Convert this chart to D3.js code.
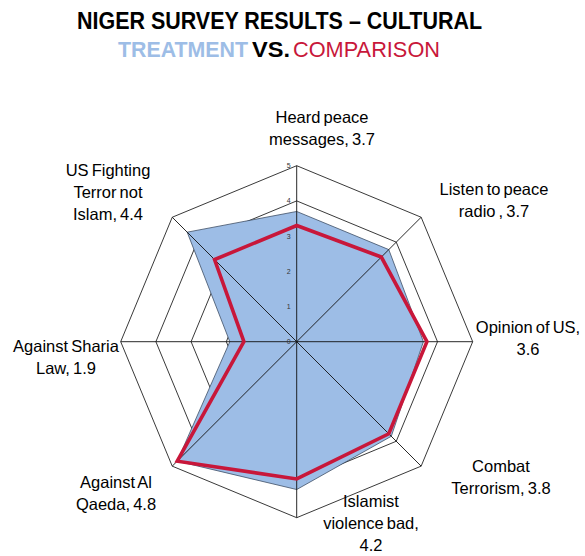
<!DOCTYPE html>
<html>
<head>
<meta charset="utf-8">
<script src="https://cdn.jsdelivr.net/npm/d3@7/dist/d3.min.js"></script>
<style>
  html, body { margin: 0; padding: 0; background: #fff; }
  svg { display: block; font-family: Arial, "Liberation Sans", sans-serif; }
</style>
</head>
<body>
<svg id="chart" width="585" height="556"></svg>
<script>
// Survey dimensions, clockwise from the top
const categories = [
  ["Heard peace", "messages, 3.7"],
  ["Listen to peace", "radio , 3.7"],
  ["Opinion of US,", "3.6"],
  ["Combat", "Terrorism, 3.8"],
  ["Islamist", "violence bad,", "4.2"],
  ["Against Al", "Qaeda, 4.8"],
  ["Against Sharia", "Law, 1.9"],
  ["US Fighting", "Terror not", "Islam, 4.4"]
];
const treatment  = [3.7, 3.7, 3.6, 3.8, 4.2, 4.8, 1.9, 4.4];
const comparison = [3.3, 3.4, 3.7, 3.7, 3.9, 4.8, 1.5, 3.3];
const ringTicks  = [0, 1, 2, 3, 4, 5];

// label anchor points (centre of each text block, first baseline)
const labelPos = [
  [322, 123], [494, 195], [528, 333], [501, 472],
  [371, 507], [116, 488], [66, 352], [108, 176]
];

const svg = d3.select("#chart");
const cx = 296.7, cy = 341.7;
const r = d3.scaleLinear().domain([0, 5]).range([0, 176]);
const n = categories.length;
const angle = d3.scaleLinear().domain([0, n]).range([0, 2 * Math.PI]);

const g = svg.append("g").attr("transform", `translate(${cx},${cy})`);

// Title
const title = svg.append("g");
title.append("text")
  .attr("x", 77).attr("y", 29)
  .attr("textLength", 405).attr("lengthAdjust", "spacingAndGlyphs")
  .style("font-size", "24px").style("font-weight", "bold").attr("fill", "#000")
  .text("NIGER SURVEY RESULTS – CULTURAL");
title.append("text")
  .attr("x", 118).attr("y", 57)
  .attr("textLength", 130).attr("lengthAdjust", "spacingAndGlyphs")
  .style("font-size", "22px").style("font-weight", "bold").attr("fill", "#9dbde6")
  .text("TREATMENT");
title.append("text")
  .attr("x", 252).attr("y", 57)
  .attr("textLength", 38).attr("lengthAdjust", "spacingAndGlyphs")
  .style("font-size", "22px").style("font-weight", "bold").attr("fill", "#000")
  .text("VS.");
title.append("text")
  .attr("x", 293).attr("y", 57)
  .attr("textLength", 147).attr("lengthAdjust", "spacingAndGlyphs")
  .style("font-size", "22px").attr("fill", "#c8173a")
  .text("COMPARISON");

// Octagonal grid rings
const ringLine = d3.lineRadial()
  .angle((d, i) => angle(i))
  .radius(d => r(d))
  .curve(d3.curveLinearClosed);

g.selectAll("path.ring")
  .data(ringTicks.filter(t => t > 0))
  .join("path")
  .attr("class", "ring")
  .attr("d", t => ringLine(d3.range(n).map(() => t)))
  .attr("fill", "none")
  .attr("stroke", "#222")
  .attr("stroke-width", 0.9);

// Treatment area
const seriesLine = d3.lineRadial()
  .angle((d, i) => angle(i))
  .radius(d => r(d))
  .curve(d3.curveLinearClosed);

g.append("path")
  .attr("d", seriesLine(treatment))
  .attr("fill", "#9dbde6")
  .attr("stroke", "#3f4f66")
  .attr("stroke-width", 0.8);

// Spokes
g.selectAll("line.spoke")
  .data(d3.range(n))
  .join("line")
  .attr("class", "spoke")
  .attr("x1", 0).attr("y1", 0)
  .attr("x2", i => r(5) * Math.sin(angle(i)))
  .attr("y2", i => -r(5) * Math.cos(angle(i)))
  .attr("stroke", "#111")
  .attr("stroke-width", 0.9);

// Comparison outline
g.append("path")
  .attr("d", seriesLine(comparison))
  .attr("fill", "none")
  .attr("stroke", "#c8173a")
  .attr("stroke-width", 3.6)
  .attr("stroke-linejoin", "miter");

// Scale tick labels along the top axis
g.selectAll("text.tick")
  .data(ringTicks)
  .join("text")
  .attr("class", "tick")
  .attr("x", -8)
  .attr("y", t => -r(t) + 2.5)
  .attr("text-anchor", "middle")
  .style("font-size", "7px")
  .attr("fill", "#333")
  .text(t => t);

// Category labels
const lab = svg.selectAll("text.cat")
  .data(categories)
  .join("text")
  .attr("class", "cat")
  .attr("text-anchor", "middle")
  .style("font-size", "16.5px")
  .style("word-spacing", "-1.5px")
  .attr("fill", "#000");

lab.each(function(lines, i) {
  const t = d3.select(this);
  lines.forEach((s, k) => {
    t.append("tspan")
      .attr("x", labelPos[i][0])
      .attr("y", labelPos[i][1] + k * 22)
      .text(s);
  });
});
</script>
</body>
</html>
